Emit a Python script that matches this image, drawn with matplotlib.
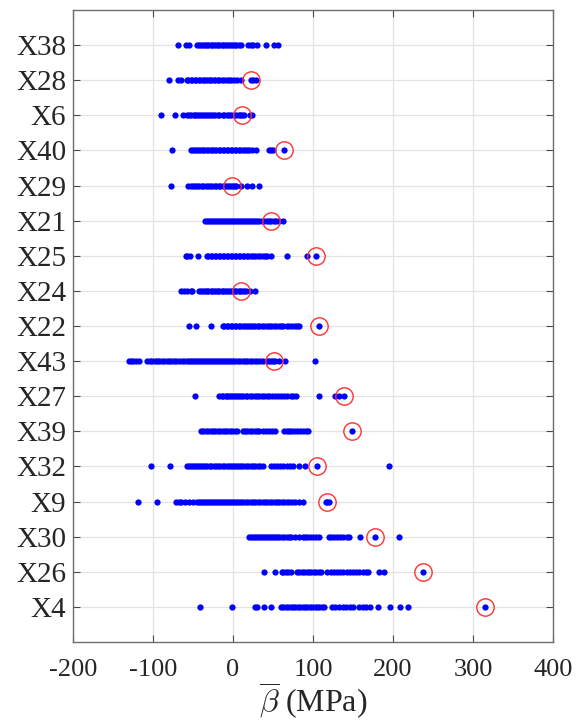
import matplotlib
matplotlib.use("Agg")
import matplotlib.pyplot as plt

plt.rcParams['font.family'] = ['Liberation Serif', 'DejaVu Serif']
plt.rcParams['mathtext.fontset'] = 'cm'

labels = ["X38", "X28", "X6", "X40", "X29", "X21", "X25", "X24", "X22",
          "X43", "X27", "X39", "X32", "X9", "X30", "X26", "X4"]

X38 = [-69, -59, -55, -45, -43, -40, -38, -35, -33, -31, -28, -26, -24, -21, -19, -17, -14,
       -12, -10, -7, -5, -3, 0, 2, 4, 7, 10, 19, 22, 25, 30, 41, 51, 56]
X28 = [-80, -69, -65, -58, -56, -53, -51, -48, -46, -43, -41, -38, -36, -34, -31, -29, -27,
       -24, -22, -19, -17, -14, -11, -8, -5, -2, 1, 5, 10, 22, 25, 29]
X6 = [-90, -72, -62, -57, -55, -52, -49, -47, -45, -42, -40, -38, -35, -33, -30, -28, -25,
      -22, -19, -17, -13, -11, -8, -5, -2, 1, 4, 7, 9, 11, 14, 21, 24]
X40 = [-76, -52, -50, -47, -45, -43, -40, -38, -36, -33, -31, -28, -26, -24, -21, -18, -16,
       -13, -11, -8, -6, -3, -1, 2, 4, 7, 9, 12, 15, 17, 20, 24, 29, 45, 48, 50, 64]
X29 = [-78, -56, -53, -50, -47, -45, -42, -39, -37, -34, -31, -29, -26, -23, -21, -18, -16,
       -13, -10, -8, -5, -3, 0, 2, 4, 10, 17, 24, 32]
X21 = [-35, -33, -30, -28, -25, -23, -20, -18, -15, -13, -10, -8, -5, -3, 0, 2, 5, 7, 10, 12,
       15, 17, 20, 22, 25, 27, 30, 33, 36, 39, 42, 45, 48, 51, 54, 57, 62]
X25 = [-59, -57, -54, -44, -33, -31, -28, -26, -23, -21, -18, -16, -13, -11, -8, -6, -3, -1,
       2, 4, 7, 9, 12, 14, 17, 19, 22, 25, 28, 31, 34, 37, 40, 43, 47, 68, 93, 104]
X24 = [-65, -61, -58, -52, -51, -42, -40, -38, -35, -33, -31, -28, -26, -24, -21, -19, -17,
       -14, -12, -10, -7, -5, -3, 0, 2, 4, 7, 9, 11, 14, 16, 21, 28]
X22 = [-55, -46, -27, -13, -11, -8, -6, -3, -1, 2, 4, 7, 9, 12, 15, 17, 20, 22, 25, 28, 31,
       33, 36, 39, 42, 45, 48, 51, 54, 57, 60, 63, 67, 70, 74, 77, 80, 83, 107]
X43 = [-130, -128, -125, -121, -117, -108, -104, -101, -98, -95, -92, -89, -86, -83, -80, -77,
       -74, -71, -68, -64, -61, -58, -55, -53, -50, -48, -45, -43, -40, -38, -35, -33, -30,
       -28, -25, -23, -20, -18, -15, -13, -10, -8, -5, -3, 0, 3, 6, 9, 12, 15, 18, 21, 24, 27,
       30, 34, 38, 42, 45, 48, 50, 53, 57, 65, 103]
X27 = [-47, -17, -14, -12, -9, -7, -5, -2, 0, 3, 5, 8, 10, 13, 16, 18, 21, 24, 27, 30, 33, 36,
       39, 42, 45, 49, 53, 56, 60, 64, 68, 72, 75, 79, 107, 127, 132, 139]
X39 = [-40, -37, -34, -31, -28, -25, -22, -19, -16, -13, -10, -7, -4, -1, 2, 5, 12, 15, 18,
       21, 24, 27, 30, 33, 37, 41, 45, 49, 53, 64, 67, 70, 73, 76, 80, 84, 88, 91, 94, 149]
X32 = [-102, -79, -58, -55, -53, -50, -48, -45, -42, -40, -37, -35, -32, -29, -27, -24, -21,
       -19, -16, -13, -11, -8, -5, -3, 0, 2, 5, 7, 10, 13, 16, 19, 22, 25, 28, 31, 34, 37, 48,
       51, 55, 59, 63, 67, 71, 75, 82, 90, 105, 195]
X9 = [-119, -95, -71, -68, -65, -60, -55, -50, -45, -43, -40, -38, -35, -33, -30, -28, -25,
      -23, -20, -18, -15, -13, -10, -8, -5, -3, 0, 2, 5, 7, 10, 13, 16, 19, 22, 25, 28, 31, 34,
      37, 40, 43, 46, 49, 52, 55, 58, 61, 64, 67, 70, 74, 78, 83, 88, 116, 118, 120]
X30 = [20, 22, 25, 27, 30, 32, 35, 37, 40, 42, 45, 47, 50, 52, 55, 58, 61, 64, 67, 70, 73, 77,
       83, 87, 90, 93, 96, 100, 104, 108, 120, 123, 126, 130, 134, 138, 142, 145, 159, 178, 207]
X26 = [39, 53, 61, 63, 66, 69, 72, 80, 83, 86, 89, 92, 95, 98, 101, 104, 107, 110, 118, 122,
       126, 130, 134, 138, 142, 146, 150, 154, 158, 162, 166, 169, 182, 189, 237]
X4 = [-41, -1, 27, 30, 39, 48, 60, 63, 66, 69, 72, 75, 78, 81, 84, 87, 90, 93, 96, 99, 102,
      105, 108, 111, 114, 124, 128, 132, 137, 141, 146, 150, 157, 162, 166, 171, 181, 196, 209,
      219, 315]

series = [X38, X28, X6, X40, X29, X21, X25, X24, X22, X43, X27, X39, X32, X9, X30, X26, X4]
# highlighted (red circle) value per row; None = no circle
highlight = [None, 22, 11, 64, -1, 48, 104, 10, 107, 51, 139, 149, 105, 117, 178, 237, 315]

xticks = [-200, -100, 0, 100, 200, 300, 400]

fig = plt.figure(figsize=(5.79, 7.25), dpi=100)
ax = fig.add_axes([73 / 579, 1 - 642 / 725, (553 - 73) / 579, (642 - 10) / 725])

n = len(labels)
ypos = [n - i for i in range(n)]

for vals, y, h in zip(series, ypos, highlight):
    ax.plot(vals, [y] * len(vals), linestyle='none', marker='o', markersize=4.5,
            color='#0000ff', markeredgewidth=0, zorder=3)
    if h is not None:
        ax.plot([h], [y], linestyle='none', marker='o', markersize=12.5,
                markerfacecolor='none', markeredgecolor='#ff3030', markeredgewidth=1.0,
                zorder=4)

ax.set_xlim(-200, 400)
ax.set_ylim(0, n + 1)
ax.set_xticks(xticks)
ax.set_xticklabels([str(t) for t in xticks])
ax.set_yticks(ypos)
ax.set_yticklabels(labels)

ax.grid(True, color='#e3e3e3', linewidth=0.9, zorder=0)
ax.set_axisbelow(True)
for s in ax.spines.values():
    s.set_color('#6e6e6e')
    s.set_linewidth(1.0)
ax.tick_params(direction='in', length=5, width=0.8, color='#4a4a4a',
               top=True, right=True, labelsize=19, labelcolor='#262626')
ax.tick_params(axis='x', pad=12)
ax.tick_params(axis='y', pad=5, labelsize=21)

ax.set_xlabel(r'$\overline{\beta}$ (MPa)', fontsize=23, color='#262626', labelpad=0)

fig.savefig('out.png', dpi=100)
